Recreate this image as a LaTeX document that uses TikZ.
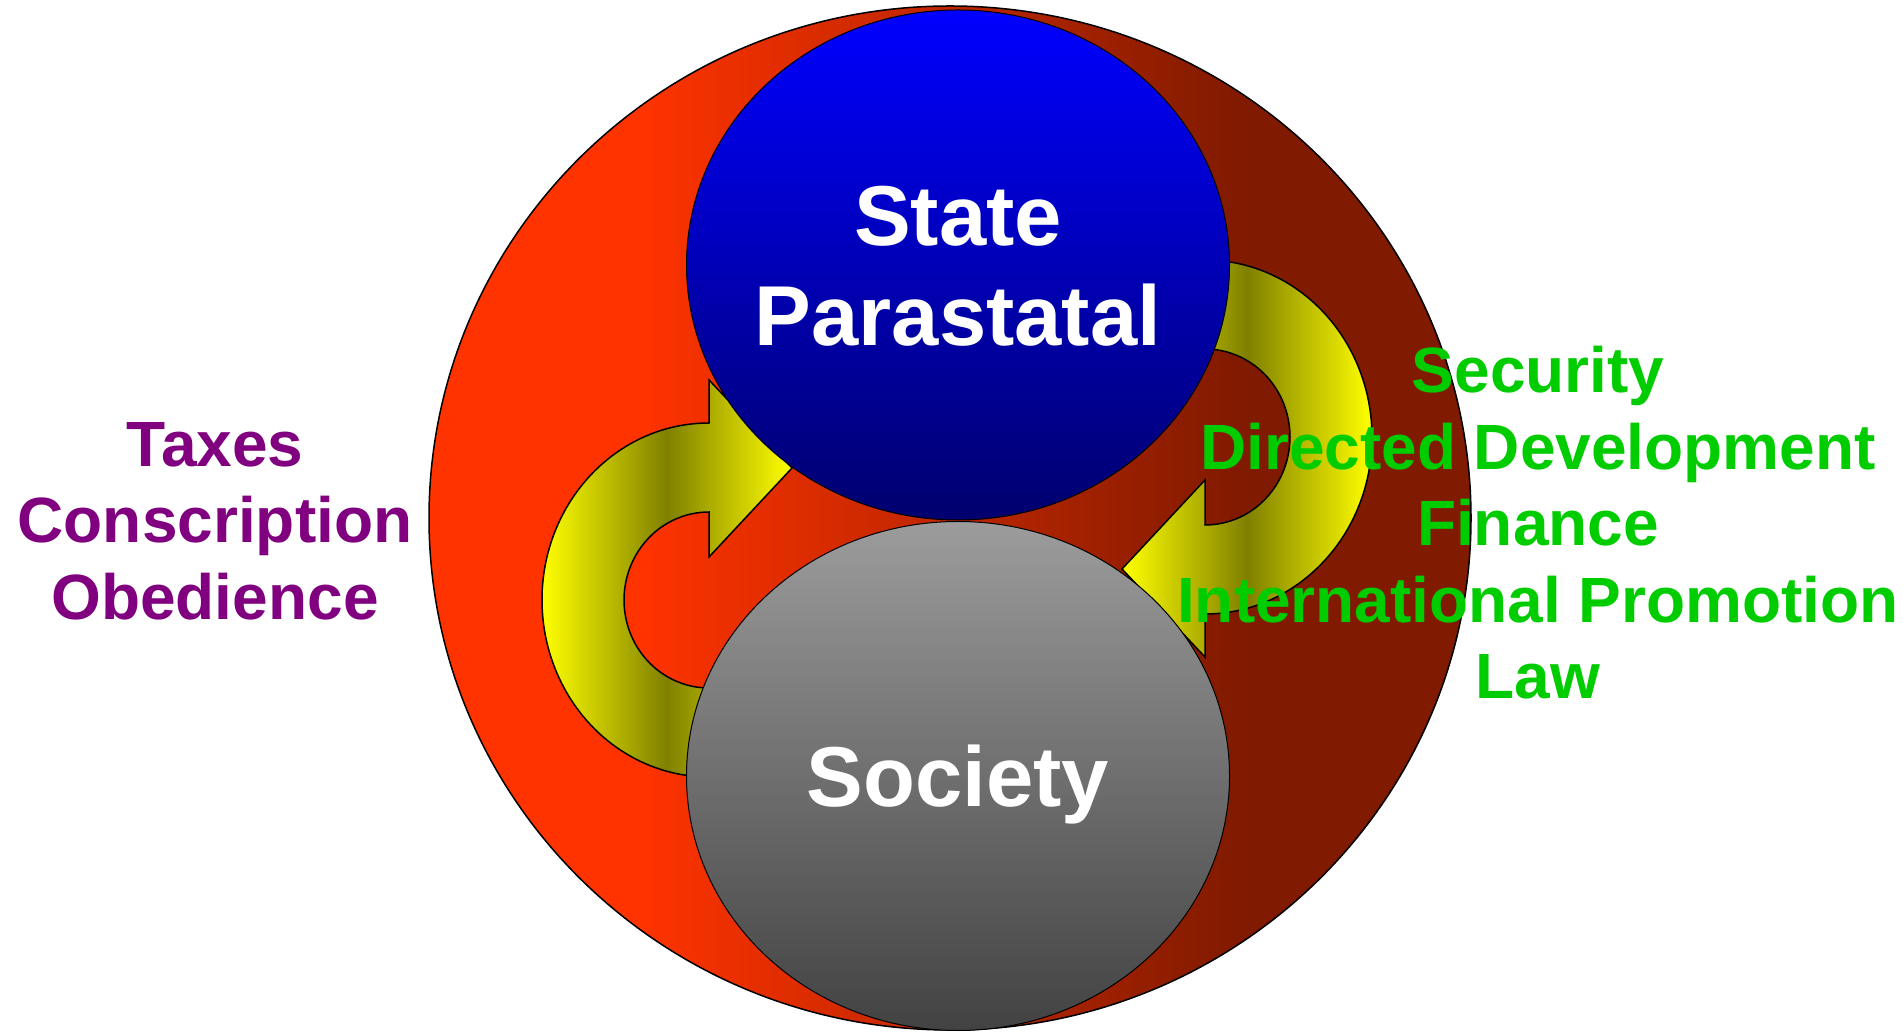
\documentclass[tikz,border=0pt]{standalone}
\usepackage{fontspec}
\setmainfont{Liberation Sans}
\usepackage{tikz}
\usetikzlibrary{shapes.geometric,positioning}
\definecolor{rimbright}{RGB}{255,51,0}
\definecolor{rimdark}{RGB}{128,26,0}
\definecolor{statetop}{RGB}{0,0,255}
\definecolor{statebot}{RGB}{0,0,110}
\definecolor{socitop}{RGB}{156,156,156}
\definecolor{socibot}{RGB}{66,66,66}
\definecolor{loopolive}{RGB}{128,128,0}
\definecolor{duespurple}{RGB}{128,0,128}
\definecolor{givesgreen}{RGB}{0,204,0}
\pgfdeclarehorizontalshading{rimshade}{100bp}{color(0bp)=(rimbright); color(35bp)=(rimbright); color(64bp)=(rimdark); color(100bp)=(rimdark)}
\tikzset{
  blob/.style={ellipse, draw, line width=1pt, inner sep=0pt},
  cyclearrow/.style={draw, line width=1.5pt, left color=yellow, right color=yellow, middle color=loopolive},
  bigword/.style={text=white, font=\fontsize{85}{100}\selectfont\bfseries, align=center, inner sep=0pt},
  sideword/.style={font=\fontsize{64}{76.5}\selectfont\bfseries, align=center, inner sep=0pt}
}
% one curved arrow, the other is the same turned half round
\newcommand{\cyclepath}{(709,608) arc[start angle=90, end angle=285, x radius=167, y radius=177]
  -- (731,346) arc[start angle=285, end angle=90, x radius=85, y radius=88]
  -- (709,474) -- (792,563) -- (709,651) -- cycle}

\begin{document}
\begin{tikzpicture}[x=1pt, y=1pt]
  \useasboundingbox (0,0) rectangle (1903,1031);
  % --- outer ring ---
  \node[blob, line width=1.5pt, shade, shading=rimshade, minimum width=1042, minimum height=1024] (realm) at (950,513) {};

  % --- exchange arrows ---
  \path[cyclearrow] \cyclepath;
  \begin{scope}[rotate around={180:(957,512.5)}]
    \path[cyclearrow] \cyclepath;
  \end{scope}

  % --- state and society ---
  \node[blob, top color=statetop, bottom color=statebot, minimum width=543, minimum height=510] (state) at (958,766) {};
  \node[blob, top color=socitop, bottom color=socibot, minimum width=543, minimum height=509] (society) at (958,255) {};
  \node[bigword] (statename) at (958,765) {State\\Parastatal};
  \node[bigword, anchor=base] (socname) at (958,224) {Society};

  % --- what flows each way ---
  \node[sideword, text=duespurple] (dues) at (215,510) {Taxes\\Conscription\\Obedience};
  \node[sideword, text=givesgreen] (gives) at (1538,508) {Security\\Directed Development\\Finance\\International Promotion\\Law};
\end{tikzpicture}
\end{document}
